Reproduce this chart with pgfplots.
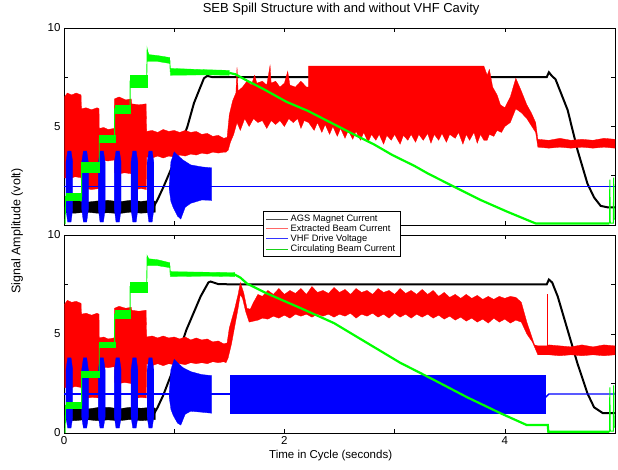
\documentclass[border=0pt]{standalone}
\usepackage{fontspec}
\setmainfont{Liberation Sans}
\usepackage{pgfplots}
\pgfplotsset{compat=1.18}
\definecolor{cR}{RGB}{255,0,0}
\definecolor{cG}{RGB}{0,255,0}
\definecolor{cB}{RGB}{0,0,255}
\pgfplotsset{
  myaxis/.style={
    scale only axis, width=551pt, xmin=0, xmax=5, ymin=0, ymax=10,
    anchor=south west,
    xtick={0,2,4}, minor xtick={1,3},
    minor ytick={2.5,7.5},
    tick align=inside, major tick length=4pt, minor tick length=4pt,
    axis line style={black, line width=0.6pt},
    every tick/.style={black, line width=0.5pt},
    tick label style={font=\fontsize{11.5}{13}\selectfont},
    /pgf/number format/assume math mode=true,
    clip=true,
  },
  legend image code/.code={\draw[#1] (0pt,0pt) -- (22pt,0pt);},
}
\begin{document}
\begin{tikzpicture}
\path[use as bounding box] (0,0) rectangle (618pt,470pt);
% ---------------- TOP PANEL (without VHF) ----------------
\begin{axis}[myaxis, at={(64pt,245pt)}, height=197pt,
  ytick={5,10}, xticklabels=\empty,
  title={SEB Spill Structure with and without VHF Cavity},
  title style={font=\fontsize{13}{15}\selectfont, at={(axis description cs:0.503,1)}, anchor=south, yshift=3pt},
]
% AGS magnet current
\addplot[black, fill=black, line width=0.3pt] coordinates {
(0.01,1.2) (0.1,1.25) (0.2,1.15) (0.3,1.22) (0.4,1.25) (0.5,1.18) (0.6,1.25) (0.7,1.2) (0.8,1.25) (0.83,1.2)
(0.83,0.65) (0.7,0.6) (0.6,0.65) (0.5,0.58) (0.4,0.62) (0.3,0.6) (0.2,0.65) (0.1,0.6) (0.01,0.62)} --cycle;
\addplot[black, line width=2pt] coordinates {
(0.81,0.88) (0.85,1.3) (0.9,1.9) (1.02,3.47) (1.12,5.0) (1.18,6.2) (1.27,7.45) (1.3,7.57) (1.35,7.5)
(2.0,7.5) (3.0,7.5) (4.0,7.5) (4.38,7.5) (4.4,7.75) (4.43,7.55) (4.46,7.4) (4.57,5.84) (4.66,3.8)
(4.75,2.1) (4.81,1.4) (4.87,0.97) (4.93,0.9) (5.0,0.9)};
% Extracted beam current
\addplot[cR, fill=cR, line width=0.3pt] coordinates {
(0.005,6.5) (0.03,6.7) (0.07,6.6) (0.11,6.7) (0.155,6.6) (0.158,5.9) (0.2,5.95) (0.25,5.85) (0.3,5.95) (0.318,5.9)
(0.32,4.9) (0.36,4.95) (0.4,4.85) (0.455,4.9) (0.458,6.4) (0.5,6.5) (0.56,6.35) (0.61,6.4) (0.615,6.15) (0.68,6.1) (0.745,6.15)
(0.75,4.75) (0.8,4.8) (0.85,4.7) (0.9,4.85) (0.95,4.75) (1.0,4.8) (1.05,4.7) (1.1,4.8) (1.15,4.7) (1.2,4.75) (1.25,4.6)
(1.3,4.65) (1.35,4.5) (1.4,4.55) (1.45,4.4) (1.48,4.45)
(1.50,5.6) (1.53,6.3) (1.56,6.7) (1.57,8.0) (1.58,6.8) (1.62,7.0) (1.66,7.3) (1.7,7.1) (1.73,7.6) (1.75,7.2) (1.8,7.3)
(1.84,7.1) (1.87,8.1) (1.88,7.2) (1.92,7.3) (1.96,7.0) (2.0,7.2) (2.03,7.8) (2.05,7.1) (2.1,7.0) (2.15,7.3) (2.2,7.0)
(2.22,7.0) (2.22,8.07) (3.81,8.07) (3.84,7.6) (3.86,7.9) (3.89,7.0) (3.93,6.6) (3.96,6.1) (4.0,5.95) (4.05,6.5)
(4.1,7.45) (4.15,6.8) (4.2,6.1) (4.24,5.7) (4.28,5.2) (4.3,4.35) (4.4,4.3) (4.5,4.4) (4.6,4.3) (4.7,4.35) (4.8,4.3)
(4.9,4.4) (5.0,4.35)
(5.0,3.9) (4.9,3.95) (4.8,3.9) (4.7,3.95) (4.6,3.9) (4.5,3.95) (4.4,3.9) (4.3,3.95) (4.28,4.7) (4.2,5.4) (4.15,5.7)
(4.1,5.9) (4.05,5.2) (4.0,5.0) (3.97,4.7) (3.93,4.8) (3.9,4.5) (3.86,4.6) (3.84,4.3)
(3.81,4.3) (3.78,4.6) (3.75,4.15) (3.72,4.7) (3.68,4.3) (3.65,4.6) (3.62,4.1) (3.58,4.7) (3.55,4.4) (3.5,4.6) (3.47,4.2)
(3.43,4.65) (3.4,4.3) (3.36,4.6) (3.33,4.15) (3.3,4.65) (3.26,4.3) (3.22,4.6) (3.19,4.2) (3.15,4.6) (3.12,4.3) (3.08,4.55)
(3.05,4.1) (3.0,4.6) (2.97,4.3) (2.93,4.55) (2.9,4.1) (2.86,4.6) (2.83,4.3) (2.79,4.6) (2.76,4.2) (2.72,4.7) (2.69,4.3)
(2.65,4.75) (2.62,4.35) (2.58,4.8) (2.55,4.4) (2.51,4.9) (2.48,4.5) (2.44,5.0) (2.41,4.6) (2.37,5.1) (2.34,4.7) (2.3,5.2)
(2.27,4.8) (2.22,5.2)
(2.18,5.3) (2.15,4.9) (2.12,5.4) (2.08,5.2) (2.04,5.4) (2.0,5.0) (1.96,5.3) (1.92,5.1) (1.88,5.3) (1.84,4.9) (1.8,5.3)
(1.76,5.2) (1.72,5.4) (1.68,5.0) (1.64,5.4) (1.6,4.8) (1.57,5.2) (1.54,4.6) (1.51,4.2) (1.49,3.8) (1.47,3.7)
(1.45,3.7) (1.4,3.65) (1.35,3.7) (1.3,3.6) (1.25,3.65) (1.2,3.55) (1.15,3.6) (1.1,3.5) (1.05,3.55) (1.0,3.45) (0.95,3.5)
(0.9,3.4) (0.85,3.5) (0.8,3.4) (0.75,3.45) (0.748,1.8) (0.7,1.85) (0.65,1.8) (0.615,1.85) (0.612,2.6) (0.55,2.65)
(0.5,2.6) (0.46,2.65) (0.458,3.3) (0.4,3.25) (0.32,3.3) (0.318,1.85) (0.25,1.8) (0.2,1.85) (0.158,1.8) (0.155,2.4)
(0.1,2.45) (0.05,2.35) (0.005,2.4)} --cycle;
% VHF drive voltage
\addplot[cB, line width=1.3pt] coordinates {(0,1.95) (5,1.95)};
\addplot[cB, fill=cB, line width=0.3pt] coordinates {(0.018,2) (0.018,3.2) (0.033,3.75) (0.064,3.75) (0.079,3.2) (0.079,0.8) (0.064,0.15) (0.033,0.15) (0.018,0.8)} --cycle;
\addplot[cB, fill=cB, line width=0.3pt] coordinates {(0.161,2) (0.161,3.2) (0.176,3.75) (0.206,3.75) (0.221,3.2) (0.221,0.8) (0.206,0.15) (0.176,0.15) (0.161,0.8)} --cycle;
\addplot[cB, fill=cB, line width=0.3pt] coordinates {(0.312,2) (0.312,3.2) (0.327,3.75) (0.358,3.75) (0.373,3.2) (0.373,0.8) (0.358,0.15) (0.327,0.15) (0.312,0.8)} --cycle;
\addplot[cB, fill=cB, line width=0.3pt] coordinates {(0.457,2) (0.457,3.2) (0.472,3.75) (0.503,3.75) (0.518,3.2) (0.518,0.8) (0.503,0.15) (0.472,0.15) (0.457,0.8)} --cycle;
\addplot[cB, fill=cB, line width=0.3pt] coordinates {(0.609,2) (0.609,3.2) (0.624,3.75) (0.655,3.75) (0.670,3.2) (0.670,0.8) (0.655,0.15) (0.624,0.15) (0.609,0.8)} --cycle;
\addplot[cB, fill=cB, line width=0.3pt] coordinates {(0.755,2) (0.755,3.2) (0.770,3.75) (0.800,3.75) (0.815,3.2) (0.815,0.8) (0.800,0.15) (0.770,0.15) (0.755,0.8)} --cycle;
\addplot[cB, fill=cB, line width=0.3pt] coordinates {(0.955,2.0) (0.97,3.2) (1.0,3.72) (1.03,3.55) (1.08,3.3) (1.15,3.05) (1.25,2.95) (1.34,2.9)
(1.34,1.25) (1.25,1.27) (1.15,1.1) (1.1,0.9) (1.06,0.3) (1.03,0.45) (0.99,0.9) (0.97,1.2) (0.955,1.8)} --cycle;
% Circulating beam current
\addplot[cG, fill=cG, line width=0.3pt] coordinates {(0.015,1.27) (0.16,1.27) (0.16,1.62) (0.015,1.62)} --cycle;
\addplot[cG, fill=cG, line width=0.3pt] coordinates {(0.16,2.7) (0.32,2.7) (0.32,3.2) (0.16,3.2)} --cycle;
\addplot[cG, fill=cG, line width=0.3pt] coordinates {(0.32,4.2) (0.46,4.2) (0.46,4.57) (0.32,4.57)} --cycle;
\addplot[cG, fill=cG, line width=0.3pt] coordinates {(0.46,5.7) (0.6,5.7) (0.6,6.1) (0.46,6.1)} --cycle;
\addplot[cG, fill=cG, line width=0.3pt] coordinates {(0.6,7.0) (0.75,7.0) (0.75,7.6) (0.6,7.6)} --cycle;
\addplot[cG, fill=cG, line width=0.3pt] coordinates {(0.755,8.3) (0.85,8.3) (0.96,8.2) (0.96,8.5) (0.85,8.6) (0.77,8.65) (0.755,8.9)} --cycle;
\addplot[cG, fill=cG, line width=0.3pt] coordinates {(0.965,7.6) (1.3,7.62) (1.5,7.6) (1.5,7.85) (1.3,7.88) (0.965,7.95)} --cycle;
\addplot[cG, line width=0.9pt] coordinates {
(0.01,0.05) (0.015,1.45) (0.16,1.45) (0.16,2.95) (0.32,2.95) (0.32,4.4) (0.46,4.4) (0.46,5.9) (0.6,5.9) (0.6,7.3)
(0.75,7.3) (0.755,8.9) (0.77,8.5) (0.85,8.45) (0.96,8.35) (0.965,7.8) (1.3,7.75) (1.5,7.72)};
\addplot[cG, line width=2.2pt] coordinates {
(1.5,7.72) (1.555,7.65) (1.66,7.33) (1.81,6.9) (2.02,6.25) (2.21,5.8) (2.42,5.2) (2.63,4.6) (2.81,4.1) (2.98,3.55)
(3.18,3.0) (3.3,2.62) (3.54,1.94) (3.78,1.27) (4.02,0.68) (4.24,0.17) (4.28,0.08) (4.95,0.08)};
\addplot[cG, line width=1pt] coordinates {(4.95,0.08) (4.953,2.3) (4.957,0.1)
(4.985,0.1) (4.988,2.4) (4.992,0.3) (5.0,0.3)};
\end{axis}
% ---------------- BOTTOM PANEL (with VHF) ----------------
\begin{axis}[myaxis, at={(64pt,37pt)}, height=198pt,
  ytick={0,5,10},
  xlabel={Time in Cycle (seconds)},
  xlabel style={font=\fontsize{11.5}{13}\selectfont, at={(axis description cs:0.484,0)}, anchor=north, yshift=-14pt},
  ylabel={Signal Amplitude (volt)},
  ylabel style={font=\fontsize{12.5}{14}\selectfont, at={(axis description cs:-0.085,1.02)}, anchor=center, rotate=0},
  legend style={at={(axis description cs:0.4855,1.005)}, anchor=center, draw=black, fill=white,
     font=\fontsize{9.3}{10.5}\selectfont, inner xsep=3pt, inner ysep=1.5pt, row sep=-2.2pt, line width=0.5pt},
  legend cell align=left,
]
\addlegendimage{black!70, line width=0.8pt}
\addlegendentry{AGS Magnet Current}
\addlegendimage{cR!60, line width=0.8pt}
\addlegendentry{Extracted Beam Current}
\addlegendimage{cB!80, line width=0.8pt}
\addlegendentry{VHF Drive Voltage}
\addlegendimage{cG!80!black!90, line width=0.8pt}
\addlegendentry{Circulating Beam Current}
% AGS magnet current
\addplot[black, fill=black, line width=0.3pt, forget plot] coordinates {
(0.01,1.25) (0.1,1.3) (0.2,1.2) (0.3,1.28) (0.4,1.3) (0.5,1.22) (0.6,1.3) (0.7,1.25) (0.8,1.3) (0.83,1.25)
(0.83,0.68) (0.7,0.62) (0.6,0.68) (0.5,0.62) (0.4,0.66) (0.3,0.62) (0.2,0.68) (0.1,0.62) (0.01,0.65)} --cycle;
\addplot[black, line width=2pt, forget plot] coordinates {
(0.81,0.9) (0.85,1.3) (0.9,1.9) (0.99,3.2) (1.11,5.2) (1.24,6.9) (1.31,7.6) (1.33,7.65) (1.4,7.52) (1.6,7.5)
(3.0,7.5) (4.0,7.5) (4.38,7.5) (4.4,7.75) (4.43,7.6) (4.48,6.9) (4.57,5.2) (4.66,3.5) (4.75,2.0) (4.81,1.3)
(4.89,1.0) (5.0,1.0)};
% Extracted beam current
\addplot[cR, fill=cR, line width=0.3pt, forget plot] coordinates {
(0.005,6.5) (0.03,6.7) (0.07,6.6) (0.11,6.65) (0.155,6.55) (0.158,6.0) (0.2,6.05) (0.25,5.95) (0.3,6.05) (0.318,6.0)
(0.32,4.8) (0.36,4.85) (0.4,4.75) (0.455,4.8) (0.458,6.3) (0.5,6.4) (0.56,6.3) (0.61,6.35) (0.615,6.2) (0.68,6.15)
(0.745,6.2) (0.75,4.85) (0.8,4.9) (0.85,4.8) (0.9,4.9) (0.95,4.8) (1.0,4.85) (1.05,4.75) (1.1,4.85) (1.15,4.7)
(1.2,4.8) (1.25,4.7) (1.3,4.75) (1.35,4.6) (1.4,4.65) (1.45,4.5) (1.48,4.55) (1.5,5.3) (1.53,5.9) (1.55,6.3)
(1.58,7.0) (1.6,7.6) (1.63,7.1) (1.66,6.3) (1.69,6.25)
(1.72,6.6) (1.76,7.0) (1.8,6.9) (1.85,7.2) (1.9,7.0) (1.95,7.3) (2.0,7.0) (2.05,7.2) (2.1,7.05) (2.15,7.3) (2.2,7.0)
(2.25,7.4) (2.3,7.1) (2.35,7.2) (2.4,7.05) (2.45,7.35) (2.5,7.1) (2.55,7.25) (2.6,7.0) (2.65,7.3) (2.7,7.1) (2.75,7.2)
(2.8,7.0) (2.85,7.3) (2.9,7.1) (2.95,7.2) (3.0,7.0) (3.05,7.3) (3.1,7.05) (3.15,7.2) (3.2,7.0) (3.25,7.25) (3.3,7.0)
(3.35,7.2) (3.4,6.9) (3.45,7.1) (3.5,6.85) (3.55,7.0) (3.6,6.8) (3.65,7.0) (3.7,6.8) (3.75,6.95) (3.8,6.75) (3.85,6.9)
(3.9,6.75) (3.95,6.9) (4.0,6.8) (4.05,6.9) (4.1,6.85) (4.15,6.6) (4.2,5.6) (4.27,4.45)
(4.3,4.4) (4.38,4.4) (4.4,4.45) (4.5,4.4) (4.6,4.35) (4.7,4.45) (4.8,4.35) (4.9,4.45) (5.0,4.4)
(5.0,3.95) (4.9,3.9) (4.8,3.95) (4.7,3.9) (4.6,3.95) (4.5,3.9) (4.4,3.95) (4.3,3.95)
(4.25,4.6) (4.2,5.0) (4.15,5.6) (4.1,5.7) (4.05,5.55) (4.0,5.75) (3.95,5.6) (3.9,5.8) (3.85,5.55) (3.8,5.75) (3.75,5.6)
(3.7,5.8) (3.65,5.65) (3.6,5.85) (3.55,5.7) (3.5,5.9) (3.45,5.75) (3.4,5.95) (3.35,5.8) (3.3,6.0) (3.25,5.85) (3.2,6.0)
(3.15,5.8) (3.1,6.0) (3.05,5.85) (3.0,6.05) (2.95,5.8) (2.9,6.0) (2.85,5.85) (2.8,6.05) (2.75,5.9) (2.7,6.0) (2.65,5.8)
(2.6,6.05) (2.55,5.9) (2.5,6.0) (2.45,5.85) (2.4,6.0) (2.35,5.9) (2.3,6.0) (2.25,5.85) (2.2,6.0) (2.15,5.9) (2.1,6.0)
(2.05,5.8) (2.0,5.95) (1.95,5.8) (1.9,5.9) (1.85,5.75) (1.8,5.8) (1.76,5.7) (1.72,5.65) (1.68,5.6) (1.65,6.1)
(1.62,6.8) (1.6,7.0) (1.58,6.3) (1.55,5.4) (1.52,4.5) (1.49,3.8) (1.47,3.55)
(1.45,3.6) (1.4,3.55) (1.35,3.6) (1.3,3.5) (1.25,3.55) (1.2,3.5) (1.15,3.55) (1.1,3.45) (1.05,3.5) (1.0,3.45)
(0.95,3.5) (0.9,3.4) (0.85,3.5) (0.8,3.4) (0.75,3.5) (0.748,1.77) (0.7,1.8) (0.65,1.75) (0.615,1.8) (0.612,2.5)
(0.55,2.55) (0.5,2.5) (0.46,2.55) (0.458,3.35) (0.4,3.3) (0.32,3.35) (0.318,1.77) (0.25,1.8) (0.2,1.75) (0.158,1.8)
(0.155,2.3) (0.1,2.35) (0.05,2.25) (0.005,2.3)} --cycle;
\addplot[cR, line width=0.8pt, forget plot] coordinates {(4.39,4.2) (4.39,7.0)};
% VHF drive voltage
\addplot[cB, line width=1.3pt, forget plot] coordinates {(0,1.97) (1.51,1.97)};
\addplot[cB, line width=1.3pt, forget plot] coordinates {(4.37,1.8) (4.4,1.97) (5,1.97)};
\addplot[cB, fill=cB, line width=0.3pt, forget plot] coordinates {(0.018,2) (0.018,3.2) (0.033,3.8) (0.064,3.8) (0.079,3.2) (0.079,0.8) (0.064,0.25) (0.033,0.25) (0.018,0.8)} --cycle;
\addplot[cB, fill=cB, line width=0.3pt, forget plot] coordinates {(0.161,2) (0.161,3.2) (0.176,3.8) (0.206,3.8) (0.221,3.2) (0.221,0.8) (0.206,0.25) (0.176,0.25) (0.161,0.8)} --cycle;
\addplot[cB, fill=cB, line width=0.3pt, forget plot] coordinates {(0.312,2) (0.312,3.2) (0.327,3.8) (0.358,3.8) (0.373,3.2) (0.373,0.8) (0.358,0.25) (0.327,0.25) (0.312,0.8)} --cycle;
\addplot[cB, fill=cB, line width=0.3pt, forget plot] coordinates {(0.457,2) (0.457,3.2) (0.472,3.8) (0.503,3.8) (0.518,3.2) (0.518,0.8) (0.503,0.25) (0.472,0.25) (0.457,0.8)} --cycle;
\addplot[cB, fill=cB, line width=0.3pt, forget plot] coordinates {(0.609,2) (0.609,3.2) (0.624,3.8) (0.655,3.8) (0.670,3.2) (0.670,0.8) (0.655,0.25) (0.624,0.25) (0.609,0.8)} --cycle;
\addplot[cB, fill=cB, line width=0.3pt, forget plot] coordinates {(0.755,2) (0.755,3.2) (0.770,3.8) (0.800,3.8) (0.815,3.2) (0.815,0.8) (0.800,0.25) (0.770,0.25) (0.755,0.8)} --cycle;
\addplot[cB, fill=cB, line width=0.3pt, forget plot] coordinates {(0.955,2.0) (0.97,3.2) (1.0,3.72) (1.03,3.55) (1.08,3.3) (1.15,3.1) (1.25,2.95) (1.34,2.9)
(1.34,1.0) (1.25,1.05) (1.15,1.1) (1.1,0.95) (1.06,0.4) (1.03,0.5) (0.99,0.9) (0.97,1.2) (0.955,1.8)} --cycle;
\addplot[cB, fill=cB, line width=0.3pt, forget plot] coordinates {(1.51,1.0) (4.37,1.0) (4.37,2.93) (1.51,2.93)} --cycle;
% Circulating beam current
\addplot[cG, fill=cG, line width=0.3pt, forget plot] coordinates {(0.015,1.25) (0.16,1.25) (0.16,1.55) (0.015,1.55)} --cycle;
\addplot[cG, fill=cG, line width=0.3pt, forget plot] coordinates {(0.16,2.8) (0.32,2.8) (0.32,3.1) (0.16,3.1)} --cycle;
\addplot[cG, fill=cG, line width=0.3pt, forget plot] coordinates {(0.32,4.35) (0.46,4.35) (0.46,4.6) (0.32,4.6)} --cycle;
\addplot[cG, fill=cG, line width=0.3pt, forget plot] coordinates {(0.46,5.8) (0.6,5.8) (0.6,6.2) (0.46,6.2)} --cycle;
\addplot[cG, fill=cG, line width=0.3pt, forget plot] coordinates {(0.6,7.1) (0.75,7.1) (0.75,7.6) (0.6,7.6)} --cycle;
\addplot[cG, fill=cG, line width=0.3pt, forget plot] coordinates {(0.755,8.45) (0.85,8.45) (0.96,8.35) (0.96,8.6) (0.85,8.75) (0.77,8.8) (0.755,8.95)} --cycle;
\addplot[cG, fill=cG, line width=0.3pt, forget plot] coordinates {(0.965,7.9) (1.3,7.92) (1.55,7.9) (1.55,8.1) (1.3,8.12) (0.965,8.15)} --cycle;
\addplot[cG, line width=0.9pt, forget plot] coordinates {
(0.01,0.0) (0.015,1.4) (0.16,1.4) (0.16,2.95) (0.32,2.95) (0.32,4.5) (0.46,4.5) (0.46,6.0) (0.6,6.0) (0.6,7.4)
(0.75,7.4) (0.755,8.9) (0.77,8.65) (0.85,8.6) (0.96,8.45) (0.965,8.0) (1.3,8.02) (1.55,8.0)};
\addplot[cG, line width=2.2pt, forget plot] coordinates {
(1.55,8.0) (1.6,7.85) (1.66,7.55) (1.84,7.05) (2.15,6.3) (2.45,5.55) (2.75,4.55) (3.05,3.55) (3.35,2.7) (3.66,1.8)
(3.96,1.0) (4.2,0.4) (4.39,0.4) (4.395,0.06) (4.95,0.06)};
\addplot[cG, line width=1pt, forget plot] coordinates {(4.95,0.06) (4.953,2.3) (4.957,0.1) (4.985,0.1) (4.988,2.4) (4.992,0.3) (5.0,0.3)};
\end{axis}
\end{tikzpicture}
\end{document}
